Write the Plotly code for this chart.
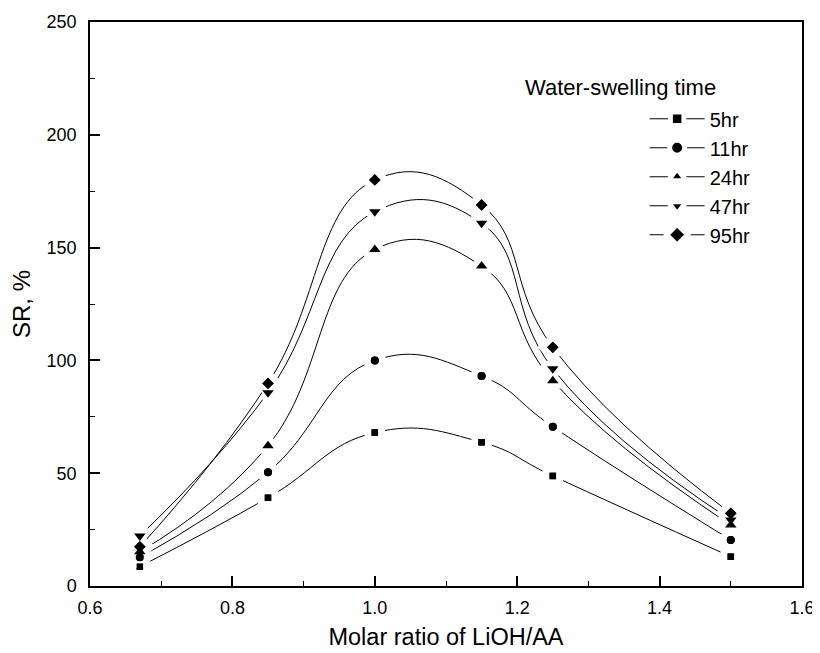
import plotly.graph_objects as go

# molar ratio LiOH/AA
ratio = [0.67, 0.85, 1.0, 1.15, 1.25, 1.5]

# swelling ratio SR (%) for each water-swelling time
sr_5hr = [8.6, 39.1, 68.0, 63.7, 48.8, 13.0]
sr_11hr = [12.7, 50.4, 100.0, 93.1, 70.6, 20.4]
sr_24hr = [15.2, 62.2, 149.2, 141.8, 91.0, 27.0]
sr_47hr = [22.2, 85.7, 165.9, 160.8, 96.3, 29.3]
sr_95hr = [17.4, 89.8, 180.0, 168.9, 105.8, 32.2]

series_names = ["5hr", "11hr", "24hr", "47hr", "95hr"]
series_values = [sr_5hr, sr_11hr, sr_24hr, sr_47hr, sr_95hr]
symbols = ["square", "circle", "triangle-up", "triangle-down", "diamond"]
sizes = [6.5, 8, 10, 10, 9]

FONT = "Arial, Liberation Sans, sans-serif"

fig = go.Figure()

# curves with white halo round the symbols (gives the gaps)
for i in range(len(series_names)):
    fig.add_trace(go.Scatter(
        x=ratio, y=series_values[i], name=series_names[i],
        mode="lines+markers",
        line=dict(color="black", width=1, shape="spline", smoothing=1.3),
        marker=dict(symbol=symbols[i], size=sizes[i] + 7, color="black",
                    line=dict(color="white", width=7)),
        legendgroup=series_names[i],
    ))

# solid symbols on top
for i in range(len(series_names)):
    fig.add_trace(go.Scatter(
        x=ratio, y=series_values[i], mode="markers", showlegend=False,
        marker=dict(symbol=symbols[i], size=sizes[i], color="black"),
        hoverinfo="skip",
    ))

# page body adds 8px, margins are set so the frame lands where the original one is
fig.update_layout(
    width=820, height=653,
    margin=dict(l=82, r=26, t=14, b=75),
    plot_bgcolor="white", paper_bgcolor="white",
    font=dict(family=FONT, color="black", size=18),
    legend=dict(x=0.779, y=0.863, xanchor="left", yanchor="top",
                font=dict(size=20), bgcolor="rgba(0,0,0,0)",
                itemwidth=55, tracegroupgap=0, traceorder="grouped"),
)

fig.add_annotation(text="Water-swelling time", xref="paper", yref="paper",
                   x=0.882, y=0.883, xanchor="right", yanchor="middle",
                   showarrow=False, font=dict(size=22))

fig.update_xaxes(
    range=[0.6, 1.6], dtick=0.2, tick0=0.6, tickformat=".1f",
    showline=True, linecolor="black", linewidth=1.5, mirror=True,
    ticks="inside", ticklen=10, tickwidth=1.5, tickcolor="black",
    minor=dict(ticks="inside", ticklen=5, dtick=0.1, tickcolor="black", tickwidth=1.2),
    showgrid=False, zeroline=False, automargin=False,
    tickfont=dict(size=18), ticklabelstandoff=5,
    title=dict(text="Molar ratio of LiOH/AA", font=dict(size=23.5), standoff=11),
)
fig.update_yaxes(
    range=[0, 250], dtick=50,
    showline=True, linecolor="black", linewidth=1.5, mirror=True,
    ticks="inside", ticklen=10, tickwidth=1.5, tickcolor="black",
    minor=dict(ticks="inside", ticklen=5, dtick=25, tickcolor="black", tickwidth=1.2),
    showgrid=False, zeroline=False, automargin=False,
    tickfont=dict(size=18), ticklabelstandoff=8,
    title=dict(text="SR, %", font=dict(size=24), standoff=14),
)

fig.write_html("out.html")
